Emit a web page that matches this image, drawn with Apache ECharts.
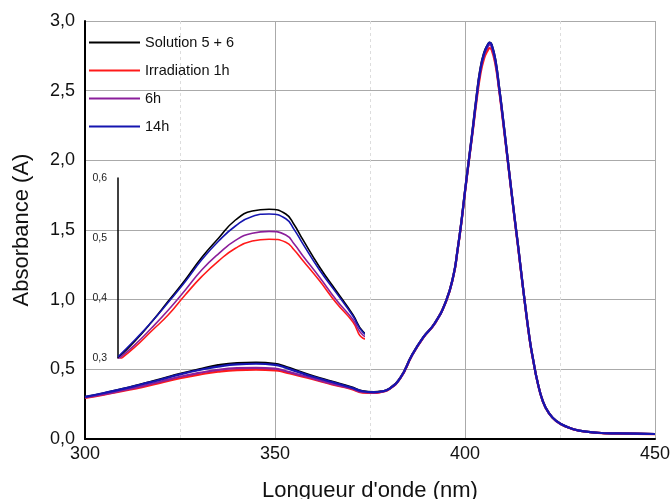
<!DOCTYPE html>
<html>
<head>
<meta charset="utf-8">
<script src="https://cdn.jsdelivr.net/npm/echarts@6/dist/echarts.min.js"></script>
<style>
  html, body { margin: 0; padding: 0; background: #fff; }
  #chart { width: 670px; height: 499px; }
</style>
</head>
<body>
<div id="chart"></div>
<script>
// longueurs d'onde (nm)
const wavelengths = [300, 305, 310, 315, 320, 325, 330, 335, 340, 345, 350, 352.5, 355, 360, 365, 370, 373,
  376, 378, 380, 383, 386, 389, 392, 395, 397, 398, 399, 400, 401, 402, 403, 404, 405, 406, 406.5,
  407, 408, 409, 410, 411.4, 413, 414, 415.3, 417, 418, 419, 420.5, 422, 424, 427, 430, 435, 440, 450]

const seriesNames = ['Solution 5 + 6', 'Irradiation 1h', '6h', '14h']

const solution56 = [0.300, 0.328, 0.360, 0.395, 0.430, 0.468, 0.500, 0.530, 0.545, 0.548, 0.540, 0.522, 0.498, 0.452, 0.412, 0.372, 0.344,
  0.337, 0.342, 0.360, 0.440, 0.600, 0.730, 0.830, 0.990, 1.180, 1.350, 1.550, 1.780, 2.000, 2.220, 2.450, 2.650, 2.770, 2.830, 2.845,
  2.830, 2.720, 2.520, 2.300, 1.970, 1.600, 1.380, 1.080, 0.720, 0.560, 0.420, 0.270, 0.190, 0.130, 0.085, 0.060, 0.045, 0.040, 0.036]

const irradiation1h = [0.295, 0.318, 0.345, 0.372, 0.405, 0.436, 0.462, 0.483, 0.495, 0.498, 0.493, 0.480, 0.463, 0.429, 0.392, 0.360, 0.333,
  0.330, 0.338, 0.356, 0.436, 0.596, 0.726, 0.826, 0.985, 1.175, 1.345, 1.540, 1.770, 1.990, 2.200, 2.420, 2.610, 2.730, 2.790, 2.805,
  2.795, 2.690, 2.500, 2.280, 1.960, 1.590, 1.370, 1.075, 0.715, 0.555, 0.418, 0.268, 0.188, 0.128, 0.084, 0.059, 0.044, 0.039, 0.035]

const irradiation6h = [0.298, 0.322, 0.350, 0.380, 0.413, 0.447, 0.474, 0.496, 0.508, 0.511, 0.505, 0.490, 0.471, 0.435, 0.397, 0.364, 0.338,
  0.333, 0.340, 0.358, 0.438, 0.598, 0.728, 0.828, 0.988, 1.178, 1.348, 1.545, 1.775, 1.995, 2.210, 2.440, 2.635, 2.755, 2.815, 2.830,
  2.815, 2.705, 2.510, 2.290, 1.965, 1.595, 1.375, 1.078, 0.718, 0.558, 0.420, 0.269, 0.189, 0.129, 0.085, 0.060, 0.045, 0.040, 0.036]

const irradiation14h = [0.302, 0.330, 0.360, 0.393, 0.427, 0.464, 0.495, 0.520, 0.536, 0.540, 0.532, 0.514, 0.491, 0.447, 0.409, 0.370, 0.343,
  0.336, 0.341, 0.359, 0.439, 0.599, 0.729, 0.829, 0.989, 1.179, 1.349, 1.548, 1.778, 1.998, 2.215, 2.445, 2.645, 2.765, 2.830, 2.845,
  2.830, 2.720, 2.520, 2.300, 1.970, 1.600, 1.380, 1.080, 0.720, 0.560, 0.420, 0.270, 0.190, 0.130, 0.085, 0.060, 0.045, 0.040, 0.036]

const xTicks = { min: 300, max: 450, interval: 50 }
const yTicks = { min: 0, max: 3, interval: 0.5 }
const insetX = { min: 300, max: 373 }
const insetY = { min: 0.3, max: 0.6, interval: 0.1 }

const colors = ['#000000', '#ff1a1a', '#8b1f9b', '#1515b0']
const allValues = [solution56, irradiation1h, irradiation6h, irradiation14h]

const FONT = 'Arial, "Liberation Sans", sans-serif'
const comma = (v, d) => v.toFixed(d).replace('.', ',')

const toPairs = arr => wavelengths.map((w, i) => [w, arr[i]])

const mainSeries = allValues.map((vals, idx) => ({
  name: seriesNames[idx],
  type: 'line',
  xAxisIndex: 0,
  yAxisIndex: 0,
  data: toPairs(vals),
  showSymbol: false,
  smooth: 0.5,
  color: colors[idx],
  lineStyle: { width: 2.2, color: colors[idx] },
  z: 3,
}))

// encart : mêmes données, zoom sur 300-373 nm
const insetSeries = allValues.map((vals, idx) => ({
  name: seriesNames[idx],
  type: 'line',
  xAxisIndex: 1,
  yAxisIndex: 1,
  data: toPairs(vals),
  showSymbol: false,
  smooth: 0.5,
  clip: true,
  color: colors[idx],
  lineStyle: { width: 1.6, color: colors[idx] },
  z: 4,
}))

const chart = echarts.init(document.getElementById('chart'))
chart.setOption({
  animation: false,
  backgroundColor: '#fff',
  textStyle: { fontFamily: FONT },
  legend: {
    data: seriesNames,
    orient: 'vertical',
    left: 84,
    top: 30,
    icon: 'rect',
    itemWidth: 51,
    itemHeight: 2,
    itemGap: 13,
    textStyle: { fontSize: 14.5, color: '#111', fontFamily: FONT },
  },
  grid: [
    { left: 85, right: 15, top: 21, bottom: 60, outerBoundsMode: 'none', containLabel: false },
    { left: 118, width: 245, top: 178, height: 180, outerBoundsMode: 'none', containLabel: false },
  ],
  xAxis: [
    {
      type: 'value',
      gridIndex: 0,
      min: xTicks.min,
      max: xTicks.max,
      interval: xTicks.interval,
      name: "Longueur d'onde (nm)",
      nameLocation: 'middle',
      nameGap: 41,
      nameTextStyle: { fontSize: 22, color: '#111', fontFamily: FONT },
      axisLine: { onZero: false, lineStyle: { color: '#000', width: 2 } },
      axisTick: { show: false },
      axisLabel: { fontSize: 18, color: '#111', margin: 6, fontFamily: FONT },
      splitLine: { show: true, lineStyle: { color: '#aaaaaa', width: 1 } },
      minorTick: { show: false, splitNumber: 2 },
      minorSplitLine: { show: true, lineStyle: { color: '#dddddd', type: [3, 3], width: 1 } },
    },
    {
      type: 'value',
      gridIndex: 1,
      min: insetX.min,
      max: insetX.max,
      show: false,
    },
  ],
  yAxis: [
    {
      type: 'value',
      gridIndex: 0,
      min: yTicks.min,
      max: yTicks.max,
      interval: yTicks.interval,
      name: 'Absorbance (A)',
      nameLocation: 'middle',
      nameGap: 52,
      nameTextStyle: { fontSize: 22, color: '#111', fontFamily: FONT },
      axisLine: { show: true, onZero: false, lineStyle: { color: '#000', width: 2 } },
      axisTick: { show: false },
      axisLabel: { fontSize: 18, color: '#111', margin: 10, fontFamily: FONT, formatter: v => comma(v, 1) },
      splitLine: { show: true, lineStyle: { color: '#aaaaaa', width: 1 } },
    },
    {
      type: 'value',
      gridIndex: 1,
      min: insetY.min,
      max: insetY.max,
      interval: insetY.interval,
      axisLine: { show: true, onZero: false, lineStyle: { color: '#000', width: 1.5 } },
      axisTick: { show: false },
      axisLabel: { fontSize: 10.5, color: '#222', margin: 11, fontFamily: FONT, formatter: v => comma(v, 1) },
      splitLine: { show: false },
    },
  ],
  series: [...mainSeries, ...insetSeries],
})
</script>
</body>
</html>
